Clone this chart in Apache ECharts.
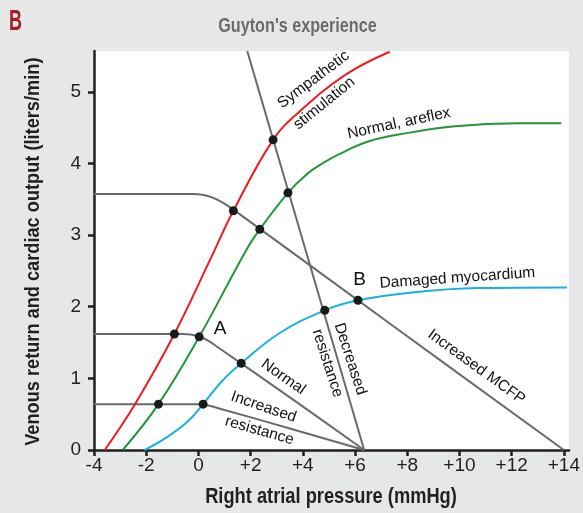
<!DOCTYPE html>
<html>
<head>
<meta charset="utf-8">
<script src="https://cdn.jsdelivr.net/npm/echarts@6/dist/echarts.min.js"></script>
<style>
  html, body { margin: 0; padding: 0; background: #e6e7e8; }
  #main { width: 583px; height: 513px; }
</style>
</head>
<body>
<div id="main"></div>
<script>
// 刻度
var xTicks = [-4, -2, 0, 2, 4, 6, 8, 10, 12, 14];
var xTickLabels = ['-4', '-2', '0', '+2', '+4', '+6', '+8', '+10', '+12', '+14'];
var yTicks = [0, 1, 2, 3, 4, 5];

// cardiac output curves [right atrial pressure, L/min]
var sympathetic = [[-3.59, 0], [-2.43, 0.64], [-0.92, 1.62], [0.44, 2.65], [1.34, 3.34],
    [2.86, 4.33], [3.86, 4.72], [5.64, 5.24], [7.33, 5.56]];
var normalAreflex = [[-2.90, 0], [-1.53, 0.64], [0.03, 1.58], [1.83, 2.79], [2.35, 3.08], [3.43, 3.59],
    [4.12, 3.84], [4.75, 4.00], [5.39, 4.13], [6.53, 4.31], [7.93, 4.42], [9.83, 4.52], [12.24, 4.56], [13.9, 4.56]];
var damaged = [[-2.06, 0], [-1.2, 0.18], [-0.4, 0.40], [0.18, 0.64], [0.9, 0.96], [1.64, 1.21],
    [3.10, 1.63], [4.84, 1.95], [6.11, 2.09], [8.18, 2.20], [10.72, 2.26], [14.12, 2.27]];

// venous return curves
var vrNormal = [[-4, 1.62], [-0.6, 1.62], [-0.3, 1.612], [0.03, 1.585], [0.4, 1.52], [0.8, 1.42], [3.6, 0.71], [6.35, 0]];
var vrIncResistance = [[-4, 0.64], [-0.1, 0.64], [0.18, 0.635], [0.5, 0.61], [0.9, 0.57], [3.6, 0.29], [6.35, 0]];
var vrDecResistance = [[1.87, 5.57], [6.35, 0]];
var vrIncMCFP = [[-4, 3.575], [-0.2, 3.575], [0.2, 3.56], [0.5, 3.53], [0.9, 3.46], [1.34, 3.355], [7.5, 1.72], [14, 0]];

// 平衡点
var equilibria = [[2.86, 4.33], [3.43, 3.59], [1.34, 3.34], [2.35, 3.08], [-0.92, 1.62], [0.03, 1.58],
    [1.64, 1.21], [-1.53, 0.64], [0.18, 0.64], [4.84, 1.95], [6.11, 2.09]];

var noteTexts = ['Sympathetic', 'stimulation', 'Normal, areflex', 'Damaged myocardium', 'Increased MCFP',
    'Decreased', 'resistance', 'Normal', 'Increased', 'resistance', 'A', 'B'];

var sans = '"Liberation Sans", Arial, sans-serif';
var textColor = '#231f20';
var gray = '#6a6a6c';

// annotation placement: [x, y, rotate, fontSize]
var notePlace = [
    [4.41, 5.17, 37, 15.5], [4.82, 4.84, 39, 15.5], [7.68, 4.56, 12, 15.5], [9.92, 2.40, 4, 15.5],
    [10.65, 1.16, -36, 15.5], [5.81, 1.27, -72, 15.5], [4.94, 1.21, -72, 15.5], [3.25, 1.02, -35, 15.5],
    [2.50, 0.60, -19, 15.5], [2.34, 0.27, -16, 15.5], [0.83, 1.69, 0, 19], [6.17, 2.37, 0, 19]
];
var notes = noteTexts.map(function (t, i) {
    var p = notePlace[i];
    return {
        value: [p[0], p[1]],
        label: { formatter: t, rotate: p[2], fontSize: p[3] }
    };
});

function lineSeries(name, data, color) {
    return {
        name: name,
        type: 'line',
        data: data,
        smooth: 0.4,
        showSymbol: false,
        silent: true,
        lineStyle: { color: color, width: 2 },
        z: color === gray ? 2 : 3
    };
}

// condensed bold text (no narrow font installed, so squeeze it)
function squeezed(text, x, y, size, sx, color, align, rotation) {
    return {
        type: 'text',
        x: x,
        y: y,
        scaleX: sx,
        rotation: rotation || 0,
        silent: true,
        style: {
            text: text,
            fill: color,
            font: 'bold ' + size + 'px ' + sans,
            textAlign: align,
            textVerticalAlign: 'middle'
        }
    };
}

var myChart = echarts.init(document.getElementById('main'), null, { renderer: 'canvas' });
var option = {
    backgroundColor: '#e6e7e8',
    animation: false,
    graphic: [
        squeezed('B', 9, 22, 30, 0.6, '#a31e23', 'left'),
        squeezed("Guyton's experience", 297.5, 26.5, 21, 0.77, '#6b6b6d', 'center'),
        squeezed('Right atrial pressure (mmHg)', 331, 497, 22, 0.83, textColor, 'center'),
        squeezed('Venous return and cardiac output (liters/min)', 33, 251.7, 20, 0.91, textColor, 'center', Math.PI / 2)
    ],
    grid: {
        left: 94, right: 11, top: 51, bottom: 63,
        show: true, backgroundColor: '#ffffff', borderWidth: 0
    },
    xAxis: {
        type: 'value',
        min: -4,
        max: 14.2,
        splitLine: { show: false },
        axisLine: { onZero: false, lineStyle: { color: textColor, width: 2.5 } },
        axisTick: { customValues: xTicks, length: 6, lineStyle: { color: textColor, width: 2.5 } },
        axisLabel: {
            customValues: xTicks,
            margin: 6,
            color: textColor,
            fontSize: 19,
            fontFamily: sans,
            formatter: function (v) { return xTickLabels[xTicks.indexOf(v)]; }
        }
    },
    yAxis: {
        type: 'value',
        min: 0,
        max: 5.57,
        splitLine: { show: false },
        axisLine: { onZero: false, lineStyle: { color: textColor, width: 2.5 } },
        axisTick: { customValues: yTicks, length: 6, lineStyle: { color: textColor, width: 2.5 } },
        axisLabel: { customValues: yTicks, margin: 13, color: textColor, fontSize: 19, fontFamily: sans }
    },
    series: [
        lineSeries('Increased MCFP', vrIncMCFP, gray),
        lineSeries('Normal VR', vrNormal, gray),
        lineSeries('Increased resistance', vrIncResistance, gray),
        lineSeries('Decreased resistance', vrDecResistance, gray),
        lineSeries('Sympathetic stimulation', sympathetic, '#ed1c24'),
        lineSeries('Normal, areflex', normalAreflex, '#23963a'),
        lineSeries('Damaged myocardium', damaged, '#1ab0e6'),
        {
            name: 'equilibria',
            type: 'scatter',
            data: equilibria,
            symbolSize: 9,
            silent: true,
            itemStyle: { color: '#1a1a1a', opacity: 1 },
            z: 5
        },
        {
            name: 'notes',
            type: 'scatter',
            data: notes,
            symbolSize: 0,
            silent: true,
            itemStyle: { opacity: 1 },
            label: {
                show: true,
                position: 'inside',
                color: '#111111',
                fontFamily: sans,
                align: 'center',
                verticalAlign: 'middle'
            },
            z: 6
        }
    ]
};
myChart.setOption(option);
</script>
</body>
</html>
